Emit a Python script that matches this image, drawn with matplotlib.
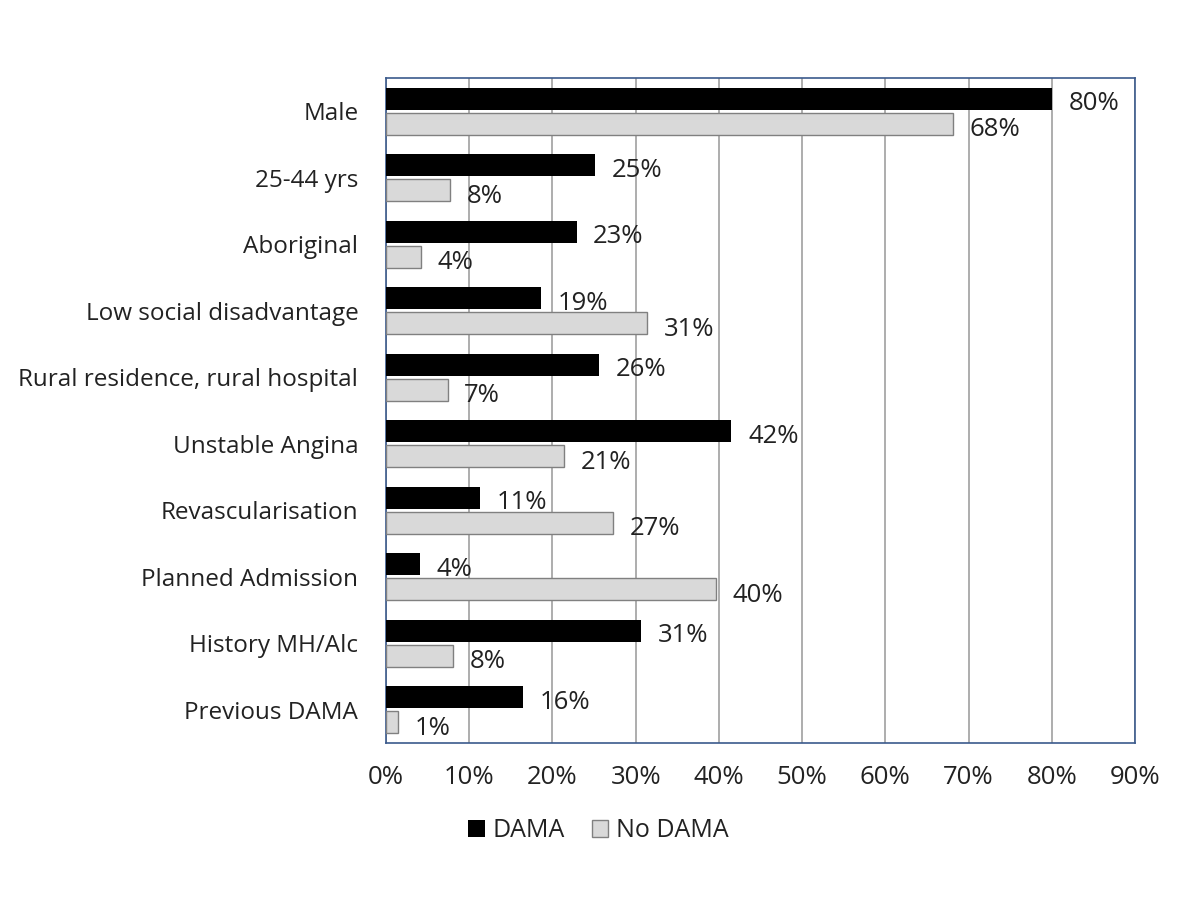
import matplotlib.pyplot as plt
import numpy as np

categories = ['Male', '25-44 yrs', 'Aboriginal', 'Low social disadvantage',
              'Rural residence, rural hospital', 'Unstable Angina',
              'Revascularisation', 'Planned Admission', 'History MH/Alc',
              'Previous DAMA']
dama = [80.0, 25.1, 22.9, 18.6, 25.6, 41.5, 11.3, 4.1, 30.6, 16.5]
no_dama = [68.1, 7.7, 4.2, 31.4, 7.4, 21.4, 27.3, 39.6, 8.1, 1.4]

plt.rcParams['font.family'] = ['Open Sans', 'DejaVu Sans']
plt.rcParams['text.color'] = '#222222'

fig = plt.figure(figsize=(12, 9), dpi=100)
ax = fig.add_axes([0.3217, 0.1744, 0.6241, 0.7389])

y = np.arange(len(categories))
h = 0.33
ax.barh(y - 0.19, dama, height=h, color='black', label='DAMA', zorder=3)
ax.barh(y + 0.19, no_dama, height=h, color='#d9d9d9', edgecolor='#808080',
        linewidth=1, label='No DAMA', zorder=3)

fs_cat = 17.5
fs_num = 18.5
for yi, v in zip(y, dama):
    ax.text(v + 2.0, yi - 0.11, f'{round(v):.0f}%', va='center', ha='left', fontsize=fs_num)
for yi, v in zip(y, no_dama):
    ax.text(v + 2.0, yi + 0.28, f'{round(v):.0f}%', va='center', ha='left', fontsize=fs_num)

ax.set_xlim(0, 90)
ax.set_ylim(len(categories) - 0.5, -0.5)
ax.set_yticks(y)
ax.set_yticklabels(categories, fontsize=fs_cat, color='#222222')
ax.set_xticks(np.arange(0, 91, 10))
ax.set_xticklabels([f'{t}%' for t in range(0, 91, 10)], fontsize=fs_num, color='#222222')
ax.tick_params(axis='x', length=0, pad=16)
ax.tick_params(axis='y', length=0, pad=20)
ax.grid(axis='x', color='#a0a0a0', linewidth=1.2, zorder=0)
for s in ax.spines.values():
    s.set_color('#3b5a8c')
    s.set_linewidth(1.2)

fig.legend(loc='center', bbox_to_anchor=(0.4985, 0.077), ncol=2, frameon=False,
           fontsize=18, handlelength=0.65, handleheight=0.65, columnspacing=1.1,
           handletextpad=0.3)

fig.savefig('out.png', dpi=100)
